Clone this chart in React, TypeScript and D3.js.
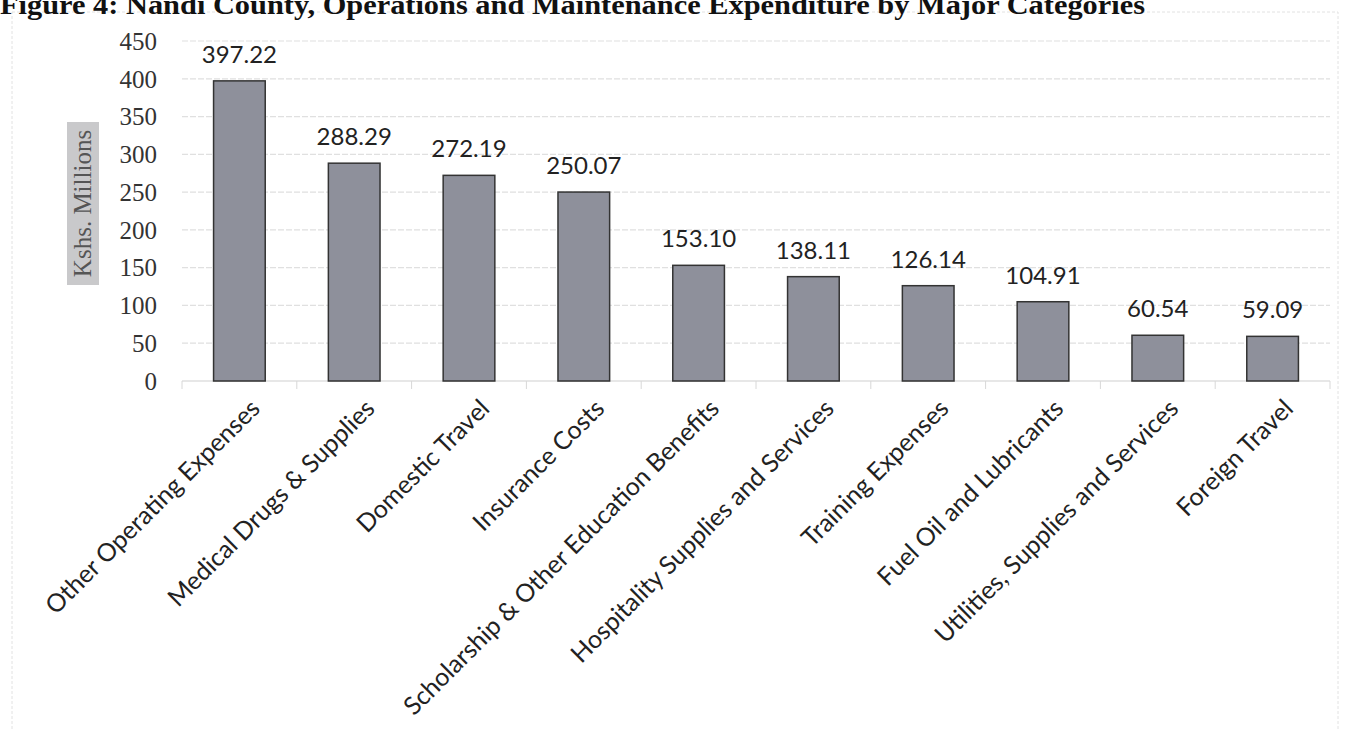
import React from "react";
import * as d3 from "d3";

const categories = [
  "Other Operating Expenses",
  "Medical Drugs & Supplies",
  "Domestic Travel",
  "Insurance Costs",
  "Scholarship & Other Education Benefits",
  "Hospitality Supplies and Services",
  "Training Expenses",
  "Fuel Oil and Lubricants",
  "Utilities, Supplies and Services",
  "Foreign Travel",
];
const values = [397.22, 288.29, 272.19, 250.07, 153.1, 138.11, 126.14, 104.91, 60.54, 59.09];
const yTicks = [0, 50, 100, 150, 200, 250, 300, 350, 400, 450];
const title = "Figure 4: Nandi County, Operations and Maintenance Expenditure by Major Categories";
const yTitle = "Kshs. Millions";

export default function App() {
  const W = 1352;
  const H = 731;
  const x = d3.scaleBand<string>().domain(categories).range([182, 1330]).paddingInner(0.55).paddingOuter(0.275);
  const y = d3.scaleLinear().domain([0, 450]).range([381, 41]);
  const step = x.step();
  const bw = x.bandwidth();
  const boundaries = d3.range(categories.length + 1).map((i) => 182 + i * step);

  return (
    <div style={{ position: "absolute", left: 0, top: 0 }}>
      <svg width={W} height={H} style={{ display: "block", background: "#fff" }}>
        <rect x={12} y={12} width={1326} height={740} fill="none" stroke="#e2e2e2" strokeDasharray="3,2" />
        <text x={0} y={14} fontFamily="'Liberation Serif', serif" fontWeight="bold" fontSize={27} fill="#111" textLength={1145} lengthAdjust="spacingAndGlyphs">
          {title}
        </text>
        {yTicks.map((t) => (
          <g key={t}>
            <line x1={182} x2={1330} y1={y(t)} y2={y(t)} stroke={t === 0 ? "#cfcfcf" : "#e0e0e0"} strokeWidth={1.2} strokeDasharray={t === 0 ? undefined : "6,2"} />
            <text x={157} y={y(t)} dy="0.35em" textAnchor="end" fontFamily="'Liberation Serif', serif" fontSize={25} fill="#333">
              {t}
            </text>
          </g>
        ))}
        {boundaries.map((b, i) => (
          <line key={i} x1={b} x2={b} y1={381} y2={389} stroke="#d8d8d8" strokeWidth={1} />
        ))}
        <rect x={67} y={122} width={32} height={163} fill="#c9c9cb" />
        <text transform={`translate(91,${(122 + 285) / 2}) rotate(-90)`} textAnchor="middle" fontFamily="'Liberation Serif', serif" fontSize={25} fill="#555">
          {yTitle}
        </text>
        {categories.map((c, i) => {
          const bx = x(c)!;
          const cx = bx + bw / 2;
          const v = values[i];
          return (
            <g key={c}>
              <rect x={bx} y={y(v)} width={bw} height={y(0) - y(v)} fill="#8e909b" stroke="#333" strokeWidth={1.5} />
              <text x={cx} y={y(v) - 18} textAnchor="middle" fontFamily="Lato, sans-serif" fontSize={24} fill="#222">
                {v.toFixed(2)}
              </text>
              <text transform={`translate(${cx + 22},410) rotate(-45)`} textAnchor="end" fontFamily="Lato, sans-serif" fontSize={25} fill="#222">
                {c}
              </text>
            </g>
          );
        })}
      </svg>
    </div>
  );
}
